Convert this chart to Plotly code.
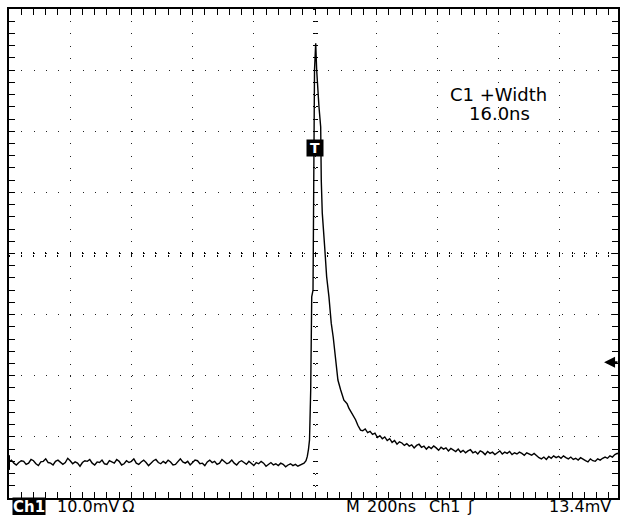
import plotly.graph_objects as go

# ---------------- data (ns, mV; screen centre = 0 ns, 0 mV) ----------------
PRE_T0 = -1000.0        # ns, first pre-trigger sample
SAMPLE_DT = 8.0         # ns between record points
PRE_MV = [
    -34.1, -33.8, -34.3, -34.6, -34.2, -33.9, -34.0, -34.5, -34.3, -33.7,
    -33.9, -34.4, -34.7, -34.1, -34.0, -33.6, -34.2, -34.3, -34.6, -34.0,
    -33.8, -34.1, -34.5, -34.2, -33.5, -33.9, -34.4, -34.1, -34.3, -34.8,
    -34.2, -33.9, -34.0, -33.7, -34.3, -34.6, -34.1, -34.2, -33.8, -34.4,
    -34.5, -33.9, -34.1, -34.3, -33.7, -34.0, -34.6, -34.4, -33.9, -34.2,
    -34.0, -33.6, -34.3, -34.5, -34.1, -33.8, -34.2, -34.7, -34.3, -33.9,
    -33.7, -34.2, -34.4, -34.0, -34.3, -33.8, -34.1, -34.6, -34.5, -34.0,
    -33.6, -34.1, -34.3, -34.0, -34.6, -34.2, -33.8, -33.9, -34.4, -34.3,
    -34.7, -34.1, -33.8, -34.2, -34.0, -34.5, -34.3, -33.7, -34.0, -34.4,
    -34.2, -33.8, -34.3, -34.6, -34.1, -33.9, -34.2, -34.5, -34.0, -34.3,
    -34.7, -34.2, -34.4, -34.0, -34.3, -34.8, -34.5, -34.2, -34.6, -34.4,
    -34.7, -34.3, -34.5, -34.9, -34.6, -34.4, -34.7, -34.5, -34.8, -34.6,
    -34.4,
]
PULSE_T = [-35.8, -29.3, -25.1, -21.2, -17.9, -14.0, -10.7, -6.5, -3.3, -1.6,
           2.3, 5.5, 13.0, 18.6, 20.5, 23.8, 31.6, 38.1, 45.6, 53.1,
           59.6, 67.4, 74.9, 83.7, 94.5, 100.0, 105.2, 110.7, 120.5, 132.6,
           140.0, 148.8]
PULSE_MV = [-34.3, -33.9, -33.2, -32.0, -30.5, -22.3, -7.1, -6.0, 12.0, 30.0,
            34.4, 30.0, 24.0, 20.7, 12.0, 6.6, 1.1, -3.8, -7.1, -11.4,
            -13.7, -17.4, -20.7, -22.3, -24.0, -24.3, -24.6, -25.3, -26.1, -27.2,
            -28.1, -28.9]
TAIL_T0 = 156.0
TAIL_MV = [
    -29.0, -28.7, -29.3, -29.1, -29.6, -29.4, -30.1, -29.8, -30.3, -30.0,
    -30.6, -30.3, -30.9, -30.6, -31.2, -30.8, -31.0, -31.4, -31.1, -31.5,
    -31.3, -31.8, -31.4, -31.2, -31.7, -31.5, -32.0, -31.6, -31.9, -31.5,
    -31.8, -32.2, -31.7, -32.0, -31.8, -32.3, -31.9, -32.1, -32.4, -32.0,
    -32.5, -32.2, -32.6, -32.3, -32.1, -32.6, -32.4, -32.8, -32.3, -32.5,
    -32.9, -32.4, -32.7, -32.5, -32.9, -32.6, -32.3, -32.8, -32.5, -32.7,
    -32.4, -32.9, -32.6, -32.8, -32.5, -32.7, -33.0, -32.6, -32.8, -33.0,
    -32.7, -33.1, -33.4, -33.6, -33.3, -33.7, -33.2, -33.5, -33.1, -33.4,
    -33.2, -33.5, -33.1, -33.4, -33.6, -33.3, -33.7, -33.5, -33.8, -33.4,
    -33.7, -33.9, -34.1, -33.6, -33.9, -34.0, -33.6, -33.8, -33.5, -33.3,
    -33.5, -33.1, -33.3, -32.9, -32.7, -32.9, -32.6,
]
GROUND_MV = -34.2          # channel 1 ground marker level
TRIG_MARK = (-1.5, 17.3)   # "T" marker (ns, mV)
TRIG_LEVEL_MV = -17.8      # trigger-level arrow on the right

SCOPE_LABELS = ["Ch1", "10.0mV\u2009\u03a9", "M", "200ns", "Ch1", "\u0283", "13.4mV"]
MEAS_LABELS = ["C1 +Width", "16.0ns"]

t_pre = [PRE_T0 + i * SAMPLE_DT for i in range(len(PRE_MV))]
t_tail = [TAIL_T0 + i * SAMPLE_DT for i in range(len(TAIL_MV))]
t_all = t_pre + PULSE_T + t_tail
v_all = PRE_MV + PULSE_MV + TAIL_MV

# ---------------- geometry helpers ----------------
W, H = 620, 515
PL, PT, PW, PH = 9, 9, 611, 489
XR = [-1000, -1000 + PW * 2000 / 614]
YR = [-40, 40]


def px(x):
    return (x - PL) / PW


def py(y):
    return 1 - (y - PT) / PH


xdiv_px = PW / ((XR[1] - XR[0]) / 200)
ydiv_px = PH / 8

fig = go.Figure()
fig.add_trace(go.Scatter(x=t_all, y=v_all, mode="lines",
                         line=dict(color="black", width=1.4),
                         hoverinfo="skip", showlegend=False))
# dummy traces so the centre-graticule tick axes are drawn
for xa, ya in [("x2", "y"), ("x3", "y"), ("x", "y2"), ("x", "y3")]:
    fig.add_trace(go.Scatter(x=[], y=[], xaxis=xa, yaxis=ya,
                             showlegend=False, hoverinfo="skip"))

grid_col = "#222"
fig.update_layout(
    width=W, height=H, autosize=False,
    margin=dict(l=PL, r=W - PL - PW, t=PT, b=H - PT - PH, pad=0),
    paper_bgcolor="white", plot_bgcolor="white",
    showlegend=False,
    xaxis=dict(range=XR, showgrid=True, gridcolor=grid_col, gridwidth=1,
               griddash="1px,%.3fpx" % (ydiv_px / 5 - 1),
               dtick=200, tick0=0, ticks="inside", ticklen=6, tickwidth=1,
               tickcolor="black",
               minor=dict(dtick=40, tick0=0, ticks="inside", ticklen=3,
                          tickwidth=1, tickcolor="black", showgrid=False),
               showline=True, linecolor="black", linewidth=2,
               mirror="allticks", zeroline=False, showticklabels=False,
               fixedrange=True),
    yaxis=dict(range=YR, showgrid=True, gridcolor=grid_col, gridwidth=1,
               griddash="1px,%.3fpx" % (xdiv_px / 5 - 1),
               dtick=10, tick0=0, ticks="inside", ticklen=6, tickwidth=1,
               tickcolor="black",
               minor=dict(dtick=2, tick0=0, ticks="inside", ticklen=3,
                          tickwidth=1, tickcolor="black", showgrid=False),
               showline=True, linecolor="black", linewidth=2,
               mirror="allticks", zeroline=False, showticklabels=False,
               fixedrange=True),
)
for name, side in [("xaxis2", "outside"), ("xaxis3", "inside")]:
    fig.layout[name] = dict(overlaying="x", anchor="free", position=0.5,
                            range=XR, dtick=40, tick0=0, ticks=side, ticklen=2,
                            tickwidth=1, tickcolor="black", showgrid=False,
                            showline=False, zeroline=False,
                            showticklabels=False, fixedrange=True)
for name, side in [("yaxis2", "outside"), ("yaxis3", "inside")]:
    fig.layout[name] = dict(overlaying="y", anchor="free",
                            position=(0 - XR[0]) / (XR[1] - XR[0]),
                            range=YR, dtick=2, tick0=0, ticks=side, ticklen=2,
                            tickwidth=1, tickcolor="black", showgrid=False,
                            showline=False, zeroline=False,
                            showticklabels=False, fixedrange=True)

FONT = "DejaVu Sans"
# measurement readout
fig.add_annotation(text=MEAS_LABELS[0], xref="paper", yref="paper",
                   x=px(500), y=py(94.5), xanchor="center", yanchor="middle",
                   showarrow=False, font=dict(family=FONT, size=18, color="black"))
fig.add_annotation(text=MEAS_LABELS[1], xref="paper", yref="paper",
                   x=px(501), y=py(114), xanchor="center", yanchor="middle",
                   showarrow=False, font=dict(family=FONT, size=18, color="black"))
# trigger "T" marker
fig.add_annotation(text="<b>T</b>", x=TRIG_MARK[0], y=TRIG_MARK[1],
                   xref="x", yref="y", showarrow=False, bgcolor="black",
                   width=14, height=14, borderpad=1,
                   font=dict(family=FONT, size=14, color="white"))
# trigger level arrow
fig.add_annotation(text="", xref="paper", yref="y", x=px(606), y=TRIG_LEVEL_MV,
                   showarrow=True, ax=15, ay=0, arrowhead=2, arrowsize=1.0,
                   arrowwidth=2.2, arrowcolor="black", standoff=0)
# ground marker
fig.add_shape(type="rect", xref="paper", yref="y", x0=px(7), x1=px(10),
              y0=GROUND_MV - 1.2, y1=GROUND_MV + 1.2,
              fillcolor="black", line=dict(width=0))

# bottom status line
ybot = py(506.5)
fig.add_annotation(text="<b>%s</b>" % SCOPE_LABELS[0], xref="paper", yref="paper",
                   x=px(12), y=ybot, xanchor="left", yanchor="middle",
                   showarrow=False, bgcolor="black", borderpad=0,
                   font=dict(family=FONT, size=15, color="white"))
bottom_pos = [55, 345, 366, 428, 466, 549]
for lab, xp in zip(SCOPE_LABELS[1:], bottom_pos):
    fig.add_annotation(text=lab, xref="paper", yref="paper", x=px(xp), y=ybot,
                       xanchor="left", yanchor="middle", showarrow=False,
                       font=dict(family=FONT, size=16, color="black"))

fig.write_html("out.html")
